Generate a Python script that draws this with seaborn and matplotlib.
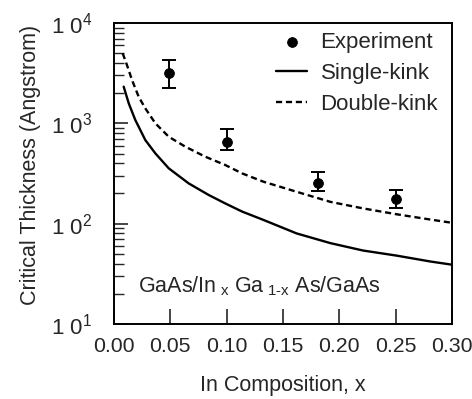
import matplotlib
matplotlib.use("Agg")
import matplotlib.pyplot as plt
import seaborn as sns
import numpy as np
import pandas as pd
from matplotlib.ticker import LogLocator, NullFormatter, FixedLocator, FuncFormatter

# Data
exp_x = [0.049, 0.100, 0.181, 0.250]
exp_y = [3200, 656, 252, 176]
exp_lo = [2260, 542, 211, 142]
exp_hi = [4280, 871, 329, 216]

single_x = [0.0086, 0.0131, 0.0189, 0.0278, 0.0367, 0.0486, 0.0663, 0.0841, 0.0988,
            0.1137, 0.1326, 0.162, 0.192, 0.221, 0.251, 0.2806, 0.300]
single_y = [2320, 1580, 1080, 681, 502, 356, 252, 193, 159,
            132, 109, 80, 64, 54, 48, 42, 39]

double_x = [0.0077, 0.0115, 0.016, 0.0219, 0.0278, 0.0367, 0.0486, 0.0633, 0.081, 0.0988,
            0.1137, 0.1326, 0.162, 0.192, 0.221, 0.251, 0.2806, 0.300]
double_y = [4990, 3810, 2700, 1840, 1410, 1000, 735, 585, 465, 384,
            317, 262, 208, 165, 142, 124, 110, 102]

xticks = [0.00, 0.05, 0.10, 0.15, 0.20, 0.25, 0.30]
xticklabels = ["0.00", "0.05", "0.10", "0.15", "0.20", "0.25", "0.30"]

sns.set_style("ticks")
plt.rcParams['font.family'] = ['Liberation Sans', 'DejaVu Sans']
plt.rcParams['mathtext.fontset'] = 'custom'
plt.rcParams['mathtext.rm'] = 'Liberation Sans'
plt.rcParams['mathtext.it'] = 'Liberation Sans'

fig = plt.figure(figsize=(4.72, 3.99), dpi=100)
ax = fig.add_axes([114/472, 1-324/399, 338/472, 301/399])

df_s = pd.DataFrame({"x": single_x, "y": single_y})
df_d = pd.DataFrame({"x": double_x, "y": double_y})
sns.lineplot(data=df_s, x="x", y="y", ax=ax, color="black", lw=1.7, label="Single-kink")
sns.lineplot(data=df_d, x="x", y="y", ax=ax, color="black", lw=1.7, linestyle=(0, (2.6, 1.6)), label="Double-kink")

yerr = [np.array(exp_y) - np.array(exp_lo), np.array(exp_hi) - np.array(exp_y)]
ax.errorbar(exp_x, exp_y, yerr=yerr, fmt="none", ecolor="black", elinewidth=1.4, capsize=5, capthick=1.4)
sns.scatterplot(x=exp_x, y=exp_y, ax=ax, color="black", s=50, edgecolor="black", zorder=5, label="Experiment")

ax.set_yscale("log")
ax.set_xlim(0, 0.30)
ax.set_ylim(10, 1e4)
ax.xaxis.set_major_locator(FixedLocator(xticks))
ax.set_xticklabels(xticklabels)
ax.yaxis.set_major_locator(LogLocator(base=10, numticks=10))
ax.yaxis.set_major_formatter(FuncFormatter(lambda v, p: "1 0$^{%d}$" % int(round(np.log10(v)))))
ax.yaxis.set_minor_locator(LogLocator(base=10, subs=np.arange(2, 10), numticks=20))
ax.yaxis.set_minor_formatter(NullFormatter())

ax.tick_params(axis="x", which="major", direction="in", length=11, width=1.2, labelsize=15.3, pad=9, top=False)
ax.tick_params(axis="y", which="major", direction="in", length=10, width=1.2, labelsize=16, pad=16, right=False)
ax.tick_params(axis="y", which="minor", direction="in", length=7, width=1.0, right=False)
for s in ax.spines.values():
    s.set_linewidth(1.4)
    s.set_color("black")

ax.set_xlabel("In Composition, x", fontsize=15.5, labelpad=14)
ax.set_ylabel("Critical Thickness (Angstrom)", fontsize=15.5)
ax.yaxis.set_label_coords(-0.215, 0.53)

ax.text(0.072, 0.125, r"GaAs/In$_{\ \mathrm{x}}$ Ga$_{\ \mathrm{1\text{-}x}}$ As/GaAs", transform=ax.transAxes,
        fontsize=15.5, ha="left", va="center")

handles, labels = ax.get_legend_handles_labels()
order = [labels.index("Experiment"), labels.index("Single-kink"), labels.index("Double-kink")]
ax.legend([handles[i] for i in order], [labels[i] for i in order], loc="upper right",
          bbox_to_anchor=(0.985, 1.0),
          frameon=False, fontsize=16, handlelength=1.4, handletextpad=0.6, labelspacing=0.45,
          borderaxespad=0.0)

fig.savefig("out.png", dpi=100)
